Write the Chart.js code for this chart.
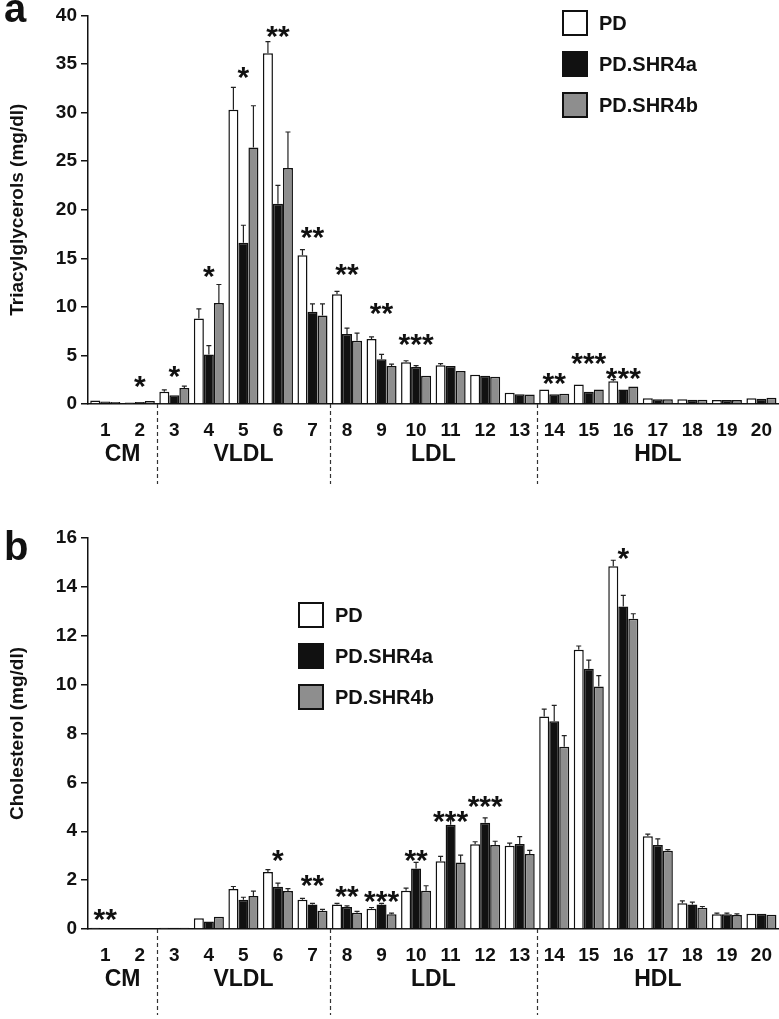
<!DOCTYPE html>
<html>
<head>
<meta charset="utf-8">
<script src="https://cdn.jsdelivr.net/npm/chart.js@4.4.1/dist/chart.umd.min.js"></script>
<style>
  body { margin: 0; background: #fff; width: 779px; height: 1019px; position: relative; overflow: hidden; }
  .panel { position: absolute; left: 0; width: 779px; }
  #wrapA { top: 0; height: 500px; }
  #wrapB { top: 520px; height: 499px; }
</style>
</head>
<body>
<div class="panel" id="wrapA"><canvas id="chartA"></canvas></div>
<div class="panel" id="wrapB"><canvas id="chartB"></canvas></div>
<script>
// Lipoprotein fractions and groups
const fractions = ['1','2','3','4','5','6','7','8','9','10','11','12','13','14','15','16','17','18','19','20'];
const seriesNames = ['PD', 'PD.SHR4a', 'PD.SHR4b'];
const seriesColors = ['#ffffff', '#111111', '#8e8e8e'];
const groupNames = ['CM', 'VLDL', 'LDL', 'HDL'];
const groupFirst = [0, 2, 7, 13];
const groupLast = [1, 6, 12, 19];

// a: Triacylglycerols (mg/dl)
const tgPD   = [0.35, 0.15, 1.25, 8.8, 30.3, 36.1, 15.3, 11.3, 6.7, 4.3, 4.0, 3.0, 1.15, 1.5, 2.0, 2.35, 0.6, 0.5, 0.4, 0.6];
const tgA    = [0.25, 0.2, 0.9, 5.1, 16.6, 20.6, 9.5, 7.2, 4.6, 3.8, 3.9, 2.9, 1.0, 1.0, 1.25, 1.5, 0.5, 0.45, 0.4, 0.55];
const tgB    = [0.2, 0.3, 1.65, 10.4, 26.4, 24.3, 9.1, 6.5, 3.9, 2.9, 3.4, 2.8, 0.97, 1.05, 1.5, 1.8, 0.5, 0.45, 0.4, 0.65];
const tgErrPD = [0.05, 0.05, 0.2, 1.0, 2.3, 1.2, 0.6, 0.3, 0.2, 0.15, 0.15, 0.1, 0.1, 0.1, 0.1, 0.15, 0.05, 0.05, 0.05, 0.05];
const tgErrA  = [0.05, 0.05, 0.1, 0.9, 1.8, 1.9, 0.8, 0.6, 0.5, 0.15, 0.1, 0.1, 0.05, 0.05, 0.1, 0.1, 0.05, 0.05, 0.05, 0.05];
const tgErrB  = [0.05, 0.05, 0.2, 1.9, 4.3, 3.7, 1.2, 0.8, 0.2, 0.1, 0.1, 0.1, 0.05, 0.05, 0.1, 0.1, 0.05, 0.05, 0.05, 0.05];
const tgStars = ['', '*', '*', '*', '*', '**', '**', '**', '**', '***', '', '', '', '**', '***', '***', '', '', '', ''];
const tgStarY = [0, 2.6, 3.6, 13.9, 34.4, 38.6, 17.9, 14.1, 10.1, 6.9, 0, 0, 0, 2.9, 4.9, 3.4, 0, 0, 0, 0];

// b: Cholesterol (mg/dl)
const chPD   = [0.05, 0.03, 0.05, 0.44, 1.64, 2.33, 1.2, 1.0, 0.83, 1.57, 2.77, 3.47, 3.41, 8.7, 11.43, 14.84, 3.8, 1.05, 0.6, 0.62];
const chA    = [0.03, 0.03, 0.05, 0.31, 1.2, 1.73, 1.0, 0.9, 1.0, 2.48, 4.27, 4.35, 3.48, 8.5, 10.65, 13.2, 3.44, 1.0, 0.6, 0.62];
const chB    = [0.03, 0.03, 0.05, 0.5, 1.35, 1.55, 0.75, 0.67, 0.6, 1.57, 2.72, 3.44, 3.07, 7.46, 9.92, 12.7, 3.2, 0.87, 0.57, 0.58];
const chErrPD = [0.01, 0.01, 0.01, 0.03, 0.1, 0.1, 0.05, 0.05, 0.05, 0.1, 0.2, 0.1, 0.1, 0.3, 0.15, 0.25, 0.08, 0.1, 0.05, 0.03];
const chErrA  = [0.01, 0.01, 0.01, 0.03, 0.1, 0.15, 0.05, 0.05, 0.05, 0.25, 0.25, 0.2, 0.3, 0.65, 0.35, 0.45, 0.25, 0.1, 0.05, 0.03];
const chErrB  = [0.01, 0.01, 0.01, 0.03, 0.2, 0.1, 0.05, 0.05, 0.05, 0.2, 0.3, 0.15, 0.15, 0.45, 0.45, 0.2, 0.05, 0.05, 0.05, 0.03];
const chStars = ['**', '', '', '', '', '*', '**', '**', '***', '**', '***', '***', '', '', '', '*', '', '', '', ''];
const chStarY = [0.7, 0, 0, 0, 0, 3.1, 2.1, 1.64, 1.44, 3.1, 4.7, 5.3, 0, 0, 0, 15.45, 0, 0, 0, 0];

const FONT = '"Liberation Sans", Arial, sans-serif';
const INK = '#111';

// draws error whiskers, stars, group labels, separators, legend and panel letter
const extrasPlugin = {
  id: 'extras',
  afterDatasetsDraw(chart, args, opts) {
    const ctx = chart.ctx;
    const x = chart.scales.x, y = chart.scales.y;
    const area = chart.chartArea;
    ctx.save();

    // error bars (upper only)
    ctx.strokeStyle = '#222';
    ctx.lineWidth = 1.2;
    chart.data.datasets.forEach((ds, di) => {
      const meta = chart.getDatasetMeta(di);
      meta.data.forEach((bar, i) => {
        const top = bar.y;
        const ey = y.getPixelForValue(ds.data[i] + opts.errors[di][i]);
        if (top - ey < 1) return;
        ctx.beginPath();
        ctx.moveTo(bar.x, top);
        ctx.lineTo(bar.x, ey);
        ctx.moveTo(bar.x - 2.5, ey);
        ctx.lineTo(bar.x + 2.5, ey);
        ctx.stroke();
      });
    });

    // significance stars
    ctx.fillStyle = INK;
    ctx.font = 'bold 30px ' + FONT;
    ctx.textAlign = 'center';
    ctx.textBaseline = 'alphabetic';
    opts.stars.forEach((s, i) => {
      if (!s) return;
      const cx = x.getPixelForValue(i);
      const cy = y.getPixelForValue(opts.starY[i]);
      ctx.fillText(s, cx, cy + 17);
    });

    // dashed separators between groups
    ctx.strokeStyle = '#333';
    ctx.lineWidth = 1.2;
    ctx.setLineDash([4, 3]);
    for (let g = 0; g < groupNames.length - 1; g++) {
      const sx = Math.round((x.getPixelForValue(groupLast[g]) + x.getPixelForValue(groupFirst[g + 1])) / 2) + 0.5;
      ctx.beginPath();
      ctx.moveTo(sx, area.bottom);
      ctx.lineTo(sx, area.bottom + opts.sepLen);
      ctx.stroke();
    }
    ctx.setLineDash([]);

    // group names
    ctx.font = 'bold 23px ' + FONT;
    ctx.textBaseline = 'middle';
    groupNames.forEach((name, g) => {
      const cx = (x.getPixelForValue(groupFirst[g]) + x.getPixelForValue(groupLast[g])) / 2;
      ctx.fillText(name, cx, area.bottom + opts.groupOffset);
    });

    // legend
    ctx.textAlign = 'left';
    ctx.font = 'bold 20px ' + FONT;
    chart.data.datasets.forEach((ds, di) => {
      const cy = opts.legendY + di * 41;
      ctx.fillStyle = ds.backgroundColor;
      ctx.fillRect(opts.legendX, cy - 12, 24, 24);
      ctx.strokeStyle = INK;
      ctx.lineWidth = 2;
      ctx.strokeRect(opts.legendX, cy - 12, 24, 24);
      ctx.fillStyle = INK;
      ctx.fillText(ds.label, opts.legendX + 36, cy + 1);
    });

    // panel letter
    ctx.font = 'bold 40px ' + FONT;
    ctx.textBaseline = 'alphabetic';
    ctx.fillText(opts.letter, 4, opts.letterY);
    ctx.restore();
  }
};

function makeChart(id, values, errors, stars, starY, yMax, yStep, yTitle, cfg) {
  return new Chart(document.getElementById(id), {
    type: 'bar',
    data: {
      labels: fractions,
      datasets: values.map((v, i) => ({
        label: seriesNames[i],
        data: v,
        backgroundColor: seriesColors[i],
        borderColor: INK,
        borderWidth: 1.5,
        borderSkipped: 'bottom',
        categoryPercentage: 0.87,
        barPercentage: 1.0
      }))
    },
    options: {
      responsive: true,
      maintainAspectRatio: false,
      animation: false,
      devicePixelRatio: 1,
      layout: { padding: { top: cfg.top, right: 0, left: 0, bottom: 0 } },
      plugins: {
        legend: { display: false },
        tooltip: { enabled: false },
        extras: {
          errors: errors, stars: stars, starY: starY,
          sepLen: cfg.sepLen, groupOffset: cfg.groupOffset,
          legendX: cfg.legendX, legendY: cfg.legendY,
          letter: cfg.letter, letterY: cfg.letterY
        }
      },
      scales: {
        x: {
          afterFit: s => { s.height = cfg.xHeight; },
          grid: { display: false },
          border: { display: true, color: INK, width: 1.5 },
          ticks: { color: INK, font: { family: FONT, size: 19, weight: 'bold' }, padding: 7, maxRotation: 0, autoSkip: false }
        },
        y: {
          min: 0, max: yMax,
          afterFit: s => { s.width = 88; },
          grid: { drawOnChartArea: false, drawTicks: true, tickLength: 7, color: INK, lineWidth: 1.5 },
          border: { display: true, color: INK, width: 1.5 },
          ticks: { stepSize: yStep, color: INK, font: { family: FONT, size: 19, weight: 'bold' }, padding: 4 },
          title: { display: true, text: yTitle, color: INK, font: { family: FONT, size: 19, weight: 'bold' }, padding: { top: 6, bottom: 0 } }
        }
      }
    },
    plugins: [extrasPlugin]
  });
}

makeChart('chartA', [tgPD, tgA, tgB], [tgErrPD, tgErrA, tgErrB], tgStars, tgStarY, 40, 5,
  'Triacylglycerols (mg/dl)',
  { top: 11, xHeight: 96, sepLen: 80, groupOffset: 51, legendX: 563, legendY: 23, letter: 'a', letterY: 22 });

makeChart('chartB', [chPD, chA, chB], [chErrPD, chErrA, chErrB], chStars, chStarY, 16, 2,
  'Cholesterol (mg/dl)',
  { top: 18, xHeight: 90, sepLen: 86, groupOffset: 51, legendX: 299, legendY: 95, letter: 'b', letterY: 40 });
</script>
</body>
</html>
